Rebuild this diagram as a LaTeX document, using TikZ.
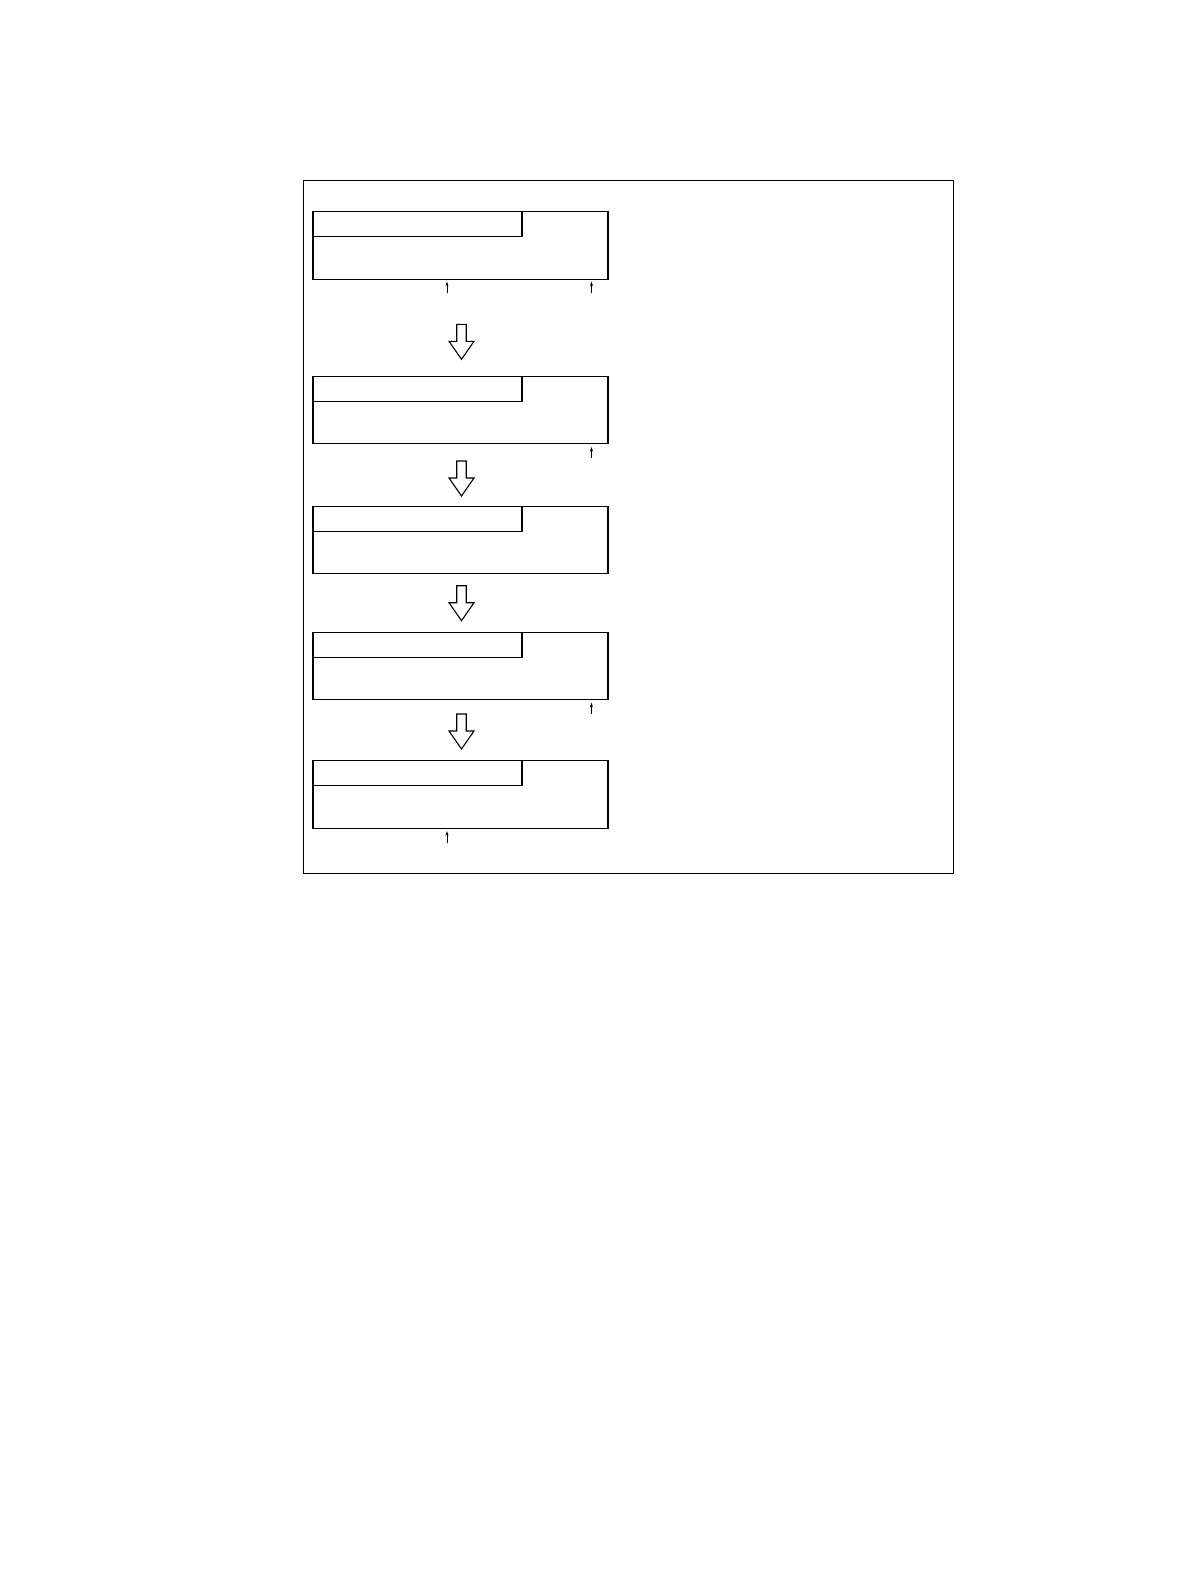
\documentclass[tikz,border=0pt]{standalone}
\usetikzlibrary{arrows.meta,calc}
\begin{document}
\begin{tikzpicture}[x=1pt,y=-1pt,
  frm/.style={draw,line width=1pt,minimum width=650pt,minimum height=693pt,anchor=north west,inner sep=0pt,outer sep=0pt},
  box/.style={draw,line width=1.1pt,minimum width=295pt,minimum height=67.5pt,anchor=north west,inner sep=0pt,outer sep=0pt},
  tabbox/.style={draw,line width=1.1pt,minimum width=209pt,minimum height=25pt,anchor=north west,inner sep=0pt,outer sep=0pt},
  smallarr/.style={line width=0.8pt,-{Stealth[length=4.5pt,width=3pt]}},
  bigarr/.pic={\draw[line width=1.1pt,line join=miter] (-4.75,0) -- (-4.75,17) -- (-12.5,17) -- (0,35) -- (12.5,17) -- (4.75,17) -- (4.75,0) -- cycle;}
]
\useasboundingbox (0,0) rectangle (1190,1584);
\node[frm] (frame) at (303,180) {};

\node[box] (b1) at (313,211.7) {};
\node[tabbox] (t1) at (313,211.7) {};
\node[box] (b2) at (313,376.3) {};
\node[tabbox] (t2) at (313,376.3) {};
\node[box] (b3) at (313,506.3) {};
\node[tabbox] (t3) at (313,506.3) {};
\node[box] (b4) at (313,632.3) {};
\node[tabbox] (t4) at (313,632.3) {};
\node[box] (b5) at (313,760.7) {};
\node[tabbox] (t5) at (313,760.7) {};

\pic at (461.5,324.3) {bigarr};
\pic at (461.5,461) {bigarr};
\pic at (461.5,585.7) {bigarr};
\pic at (461.5,714) {bigarr};

\coordinate (s1a) at (447,293);
\coordinate (s1b) at (447,281.7);
\coordinate (s2a) at (591.5,293);
\coordinate (s2b) at (591.5,281.7);
\coordinate (s3a) at (591.5,458.3);
\coordinate (s3b) at (591.5,447);
\coordinate (s4a) at (591.5,714);
\coordinate (s4b) at (591.5,702.7);
\coordinate (s5a) at (447,842.5);
\coordinate (s5b) at (447,831.2);
\draw[smallarr] (s1a) -- (s1b);
\draw[smallarr] (s2a) -- (s2b);
\draw[smallarr] (s3a) -- (s3b);
\draw[smallarr] (s4a) -- (s4b);
\draw[smallarr] (s5a) -- (s5b);
\end{tikzpicture}
\end{document}
